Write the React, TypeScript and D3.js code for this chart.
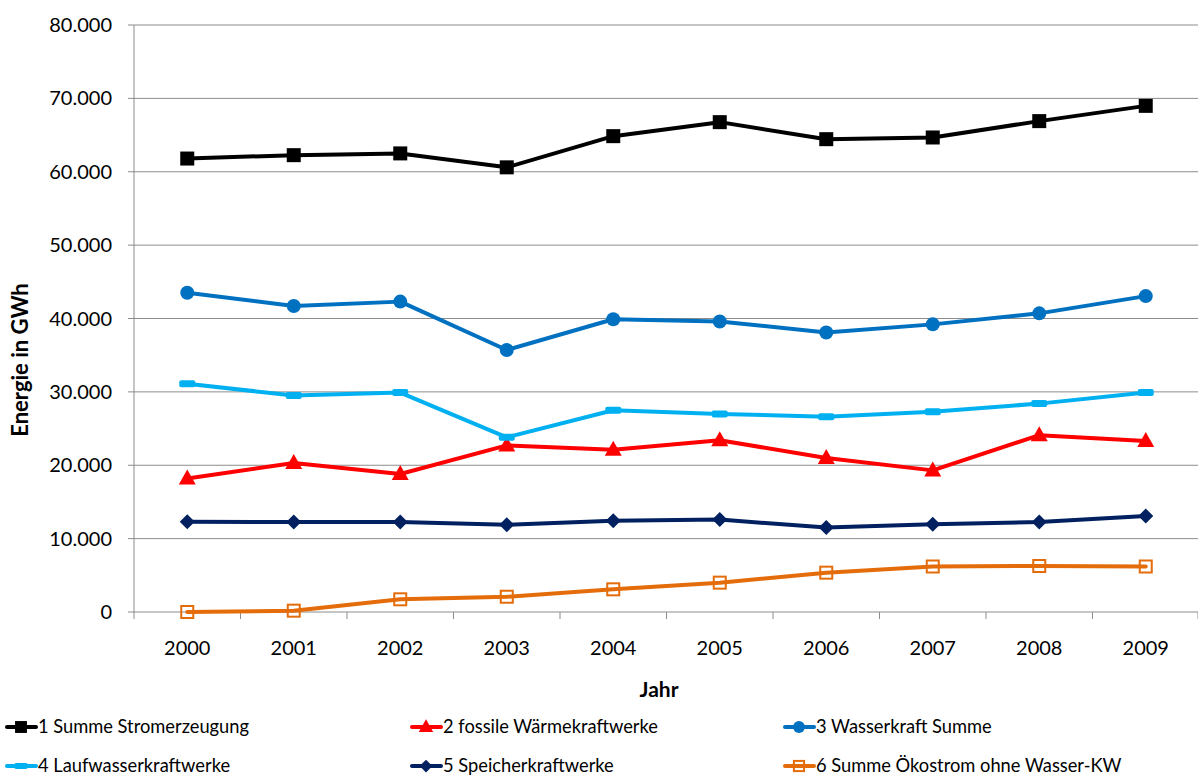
import React from "react";
import * as d3 from "d3";

const years = ["2000", "2001", "2002", "2003", "2004", "2005", "2006", "2007", "2008", "2009"];
const yTicks = [0, 10000, 20000, 30000, 40000, 50000, 60000, 70000, 80000];

const summeStrom = [61800, 62260, 62500, 60600, 64850, 66760, 64440, 64670, 66900, 68980];
const fossile = [18200, 20300, 18800, 22700, 22100, 23400, 21000, 19300, 24100, 23300];
const wasserSumme = [43500, 41700, 42300, 35700, 39900, 39600, 38100, 39200, 40700, 43050];
const laufwasser = [31100, 29500, 29900, 23800, 27500, 27000, 26600, 27300, 28400, 29900];
const speicher = [12300, 12260, 12260, 11900, 12450, 12600, 11500, 11950, 12260, 13100];
const oekostrom = [0, 180, 1730, 2080, 3090, 4000, 5360, 6200, 6270, 6200];

const seriesNames = [
  "1 Summe Stromerzeugung",
  "2 fossile Wärmekraftwerke",
  "3 Wasserkraft Summe",
  "4 Laufwasserkraftwerke",
  "5 Speicherkraftwerke",
  "6 Summe Ökostrom ohne Wasser-KW",
];
const seriesData = [summeStrom, fossile, wasserSumme, laufwasser, speicher, oekostrom];
const seriesColors = ["#000000", "#FF0000", "#0070C0", "#00B0F0", "#002060", "#E46C0A"];
const seriesMarkers = ["square", "triangle", "circle", "dash", "diamond", "hollowSquare"];

const W = 1198;
const H = 776;
const M = { left: 134, right: 1199, top: 25, bottom: 612 };
const FONT = "Lato, 'Open Sans', sans-serif";

function Marker({ type, x, y, color, scale = 1 }: { type: string; x: number; y: number; color: string; scale?: number }) {
  const s = scale;
  switch (type) {
    case "square":
      return <rect x={x - 7 * s} y={y - 7 * s} width={14 * s} height={14 * s} fill={color} />;
    case "triangle":
      return (
        <path
          d={`M${x},${y - 9 * s} L${x + 8.5 * s},${y + 6 * s} L${x - 8.5 * s},${y + 6 * s} Z`}
          fill={color}
        />
      );
    case "circle":
      return <circle cx={x} cy={y} r={7 * s} fill={color} />;
    case "dash":
      return <rect x={x - 8 * s} y={y - 3.5 * s} width={16 * s} height={7 * s} rx={2} fill={color} />;
    case "diamond":
      return (
        <path
          d={`M${x},${y - 7.5 * s} L${x + 7.5 * s},${y} L${x},${y + 7.5 * s} L${x - 7.5 * s},${y} Z`}
          fill={color}
        />
      );
    case "hollowSquare":
      return (
        <rect
          x={x - 6 * s}
          y={y - 6 * s}
          width={12 * s}
          height={12 * s}
          fill="white"
          fillOpacity={0}
          stroke={color}
          strokeWidth={2}
        />
      );
    default:
      return null;
  }
}

export default function App() {
  const x = d3.scaleBand<string>().domain(years).range([M.left, M.right]);
  const y = d3.scaleLinear().domain([0, 80000]).range([M.bottom, M.top]);
  const fmt = (v: number) => (v === 0 ? "0" : d3.format(",")(v).replace(/,/g, "."));
  const cx = (yr: string) => (x(yr) as number) + x.bandwidth() / 2;

  const line = d3
    .line<number>()
    .x((_, i) => cx(years[i]))
    .y((d) => y(d));

  const legendCols = [5, 410, 783];
  const legendRows = [727, 766];

  return (
    <svg
      width={W}
      height={H}
      style={{ position: "absolute", left: 0, top: 0, background: "#fff" }}
      fontFamily={FONT}
    >
      {/* gridlines */}
      {yTicks.map((t) => (
        <line key={t} x1={M.left - 6} x2={M.right} y1={y(t)} y2={y(t)} stroke="#8c8c8c" strokeWidth={1} />
      ))}
      {/* y axis */}
      <line x1={M.left} x2={M.left} y1={M.top} y2={M.bottom} stroke="#8c8c8c" strokeWidth={1} />
      {/* x ticks */}
      {years.map((yr) => (
        <line
          key={yr}
          x1={x(yr) as number}
          x2={x(yr) as number}
          y1={M.bottom}
          y2={M.bottom + 7}
          stroke="#8c8c8c"
        />
      ))}
      <line x1={M.right - 1} x2={M.right - 1} y1={M.bottom} y2={M.bottom + 7} stroke="#8c8c8c" />
      {/* y tick labels */}
      {yTicks.map((t) => (
        <text key={t} x={112} y={y(t)} dy="0.35em" textAnchor="end" fontSize={20} fill="#000">
          {fmt(t)}
        </text>
      ))}
      {/* x tick labels */}
      {years.map((yr) => (
        <text key={yr} x={cx(yr)} y={648} dy="0.35em" textAnchor="middle" fontSize={20} fill="#000">
          {yr}
        </text>
      ))}
      {/* axis titles */}
      <text
        transform={`translate(28,360) rotate(-90)`}
        textAnchor="middle"
        fontSize={22}
        fontWeight="bold"
      >
        Energie in GWh
      </text>
      <text x={659} y={690} dy="0.35em" textAnchor="middle" fontSize={21} fontWeight="bold">
        Jahr
      </text>
      {/* series */}
      {seriesData.map((data, si) => (
        <g key={si}>
          <path
            d={line(data) as string}
            fill="none"
            stroke={seriesColors[si]}
            strokeWidth={4}
            strokeLinejoin="round"
            strokeLinecap="round"
          />
          {data.map((v, i) => (
            <Marker key={i} type={seriesMarkers[si]} x={cx(years[i])} y={y(v)} color={seriesColors[si]} />
          ))}
        </g>
      ))}
      {/* legend */}
      {seriesNames.map((name, i) => {
        const lx = legendCols[i % 3];
        const ly = legendRows[Math.floor(i / 3)];
        return (
          <g key={name}>
            <line x1={lx + 2} x2={lx + 31} y1={ly} y2={ly} stroke={seriesColors[i]} strokeWidth={4} strokeLinecap="round" />
            <Marker type={seriesMarkers[i]} x={lx + 16} y={ly} color={seriesColors[i]} scale={0.85} />
            <text x={lx + 33} y={ly} dy="0.35em" fontSize={18.3} fill="#000">
              {name}
            </text>
          </g>
        );
      })}
    </svg>
  );
}
